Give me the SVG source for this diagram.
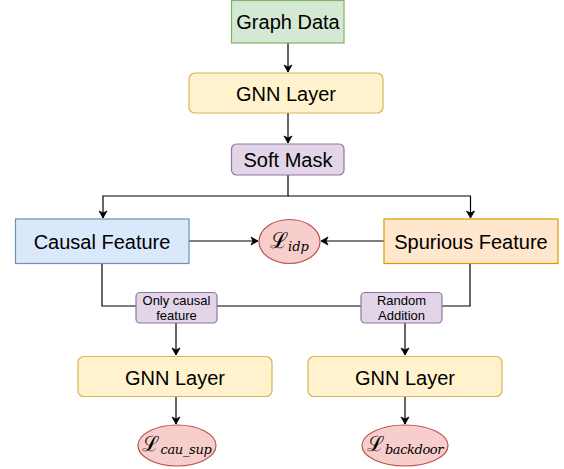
<svg xmlns="http://www.w3.org/2000/svg" width="564" height="469" viewBox="0 0 564 469">
  <style>
    .lbl { font-family: "Liberation Sans", Arial, sans-serif; font-size: 20px; fill: #000; text-anchor: middle; dominant-baseline: central; }
    .small { font-family: "Liberation Sans", Arial, sans-serif; font-size: 13px; fill: #000; text-anchor: middle; }
    .math { font-family: "DejaVu Serif", "Liberation Serif", serif; fill: #000; text-anchor: middle; }
    .sub { font-style: italic; font-size: 13px; }
    .edge { fill: none; stroke: #000; stroke-width: 1.2; }
    .green { fill: #d5e8d4; stroke: #82b366; stroke-width: 1.2; }
    .yellow { fill: #fff2cc; stroke: #d6b656; stroke-width: 1.2; }
    .purple { fill: #e1d5e7; stroke: #9673a6; stroke-width: 1.2; }
    .blue { fill: #dae8fc; stroke: #6c8ebf; stroke-width: 1.2; }
    .orange { fill: #ffe6cc; stroke: #d79b00; stroke-width: 1.2; }
    .red { fill: #f8cecc; stroke: #b85450; stroke-width: 1.2; }
  </style>
  <defs>
    <marker id="arrow" markerWidth="10" markerHeight="10" refX="8" refY="5" orient="auto" markerUnits="userSpaceOnUse">
      <path d="M1,1 L8,5 L1,9 L3,5 Z" fill="#000" stroke="#000" stroke-width="0.8"/>
    </marker>
  </defs>

  <rect width="564" height="469" fill="#fff"/>

  <!-- connectors -->
  <g id="edges">
    <path class="edge" d="M288,43 V72" marker-end="url(#arrow)"/>
    <path class="edge" d="M288,113 V143" marker-end="url(#arrow)"/>
    <path class="edge" d="M288,175 V196 H103 V218" marker-end="url(#arrow)"/>
    <path class="edge" d="M288,196 H470.5 V218" marker-end="url(#arrow)"/>
    <path class="edge" d="M189,241 H258" marker-end="url(#arrow)"/>
    <path class="edge" d="M384,241 H321" marker-end="url(#arrow)"/>
    <path class="edge" d="M102,264 V306 H470 V264"/>
    <path class="edge" d="M176,323 V355" marker-end="url(#arrow)"/>
    <path class="edge" d="M405,323 V355" marker-end="url(#arrow)"/>
    <path class="edge" d="M176,397 V424" marker-end="url(#arrow)"/>
    <path class="edge" d="M405,397 V424" marker-end="url(#arrow)"/>
  </g>

  <g id="graph-data">
    <rect class="green" x="231.5" y="0.5" width="112.5" height="42.5"/>
    <text class="lbl" x="288" y="22">Graph Data</text>
  </g>

  <g id="gnn-top">
    <rect class="yellow" x="189" y="73" width="194" height="40" rx="6"/>
    <text class="lbl" x="286" y="94">GNN Layer</text>
  </g>

  <g id="soft-mask">
    <rect class="purple" x="231.5" y="144" width="112.5" height="31" rx="5"/>
    <text class="lbl" x="288" y="160">Soft Mask</text>
  </g>

  <g id="causal-feature">
    <rect class="blue" x="15.5" y="219" width="173.5" height="44.5"/>
    <text class="lbl" x="102" y="241.5">Causal Feature</text>
  </g>

  <g id="spurious-feature">
    <rect class="orange" x="384" y="219" width="174" height="44.5"/>
    <text class="lbl" x="471" y="241.5">Spurious Feature</text>
  </g>

  <g id="loss-idp">
    <ellipse class="red" cx="289.5" cy="241.5" rx="30.5" ry="22"/>
    <text class="math" x="289.5" y="248"><tspan font-size="22">ℒ</tspan><tspan class="sub" dy="3">idp</tspan></text>
  </g>

  <g id="only-causal">
    <rect class="purple" x="136" y="292.5" width="81" height="30.5" rx="4"/>
    <text class="small" x="176.5" y="305">Only causal</text>
    <text class="small" x="176.5" y="320">feature</text>
  </g>

  <g id="random-addition">
    <rect class="purple" x="361" y="292.5" width="81" height="30.5" rx="4"/>
    <text class="small" x="401.5" y="305">Random</text>
    <text class="small" x="401.5" y="320">Addition</text>
  </g>

  <g id="gnn-left">
    <rect class="yellow" x="78" y="356.5" width="194" height="40" rx="6"/>
    <text class="lbl" x="175" y="377.5">GNN Layer</text>
  </g>

  <g id="gnn-right">
    <rect class="yellow" x="308" y="356.5" width="194" height="40" rx="6"/>
    <text class="lbl" x="405" y="377.5">GNN Layer</text>
  </g>

  <g id="loss-cau-sup">
    <ellipse class="red" cx="177" cy="445.5" rx="39" ry="20.5"/>
    <text class="math" x="177" y="451"><tspan font-size="21">ℒ</tspan><tspan class="sub" dy="3" letter-spacing="-0.3">cau_sup</tspan></text>
  </g>

  <g id="loss-backdoor">
    <ellipse class="red" cx="405" cy="445.5" rx="43" ry="20.5"/>
    <text class="math" x="405" y="451"><tspan font-size="21">ℒ</tspan><tspan class="sub" dy="3" letter-spacing="-0.4">backdoor</tspan></text>
  </g>
</svg>
